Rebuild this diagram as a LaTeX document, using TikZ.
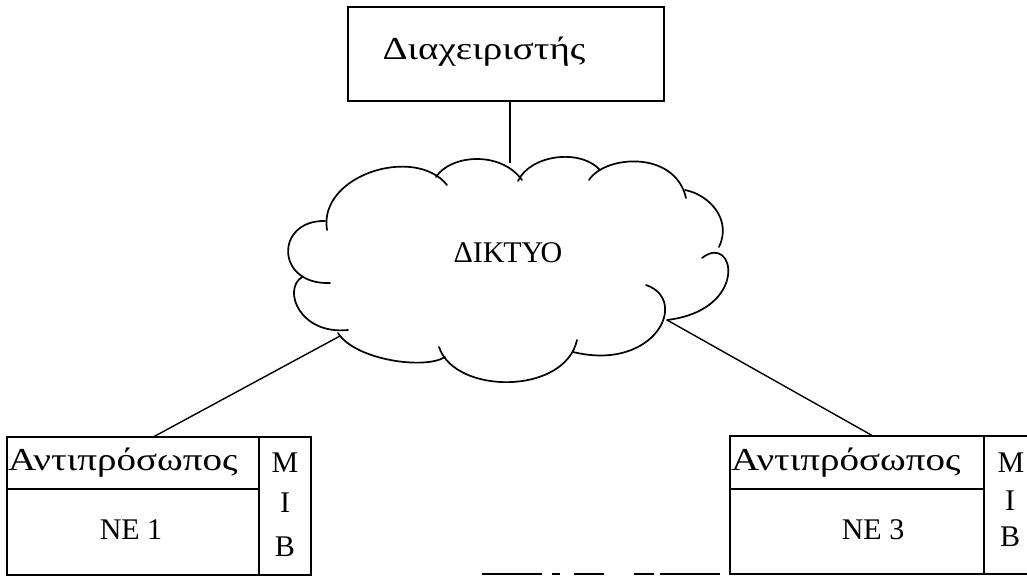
\documentclass[tikz,border=0pt]{standalone}
\usepackage{fontspec}
\setmainfont{Liberation Serif}
\newfontfamily\widegreek[FakeStretch=1.22]{Liberation Serif}
\usetikzlibrary{calc}
\tikzset{
  frame/.style={draw, line width=1.4pt, inner sep=0pt, outer sep=0pt},
  wire/.style={line width=1.4pt},
  puff/.style={line width=1.7pt, line cap=round},
  label/.style={inner sep=0pt, font=\fontsize{30}{30}\selectfont},
  wordlabel/.style={inner sep=0pt, font=\widegreek\fontsize{32}{32}\selectfont},
  scanline/.style={line width=1.2pt, dash pattern=on 60pt off 10pt on 8pt off 14pt on 30pt off 30pt on 20pt off 6pt}
}
\begin{document}
\begin{tikzpicture}[x=1pt, y=-1pt]
\useasboundingbox (0,0) rectangle (1027,577);

% manager box
\node[frame, minimum width=316pt, minimum height=94pt] (mgr) at (506,54) {};
\node[wordlabel] (mgrtext) at (484,52) {Διαχειριστής};

% network cloud, one arc per bump
\draw[puff] (327,230) .. controls (318,175) and (415,145) .. (447,185);
\draw[puff] (436,177) .. controls (450,155) and (500,150) .. (522,180);
\draw[puff] (518,181) .. controls (530,155) and (580,148) .. (600,170);
\draw[puff] (589,180) .. controls (605,155) and (675,150) .. (686,198);
\draw[puff] (685,190) .. controls (710,195) and (732,220) .. (719,247);
\draw[puff] (702,258) .. controls (735,232) and (750,310) .. (667,320);
\draw[puff] (646,285) .. controls (690,300) and (655,372) .. (573,352);
\draw[puff] (577,340) .. controls (565,395) and (455,395) .. (439,347);
\draw[puff] (445,357) .. controls (425,370) and (355,360) .. (338,333);
\draw[puff] (348,330) .. controls (300,335) and (282,290) .. (302,277);
\draw[puff] (330,283) .. controls (275,285) and (275,220) .. (325,221);
\node[label] (net) at (508,253) {ΔΙΚΤΥΟ};
\coordinate (netT) at (510,163);
\coordinate (netL) at (340,336);
\coordinate (netR) at (667,320);

% left network element
\node[frame, minimum width=252pt, minimum height=52pt] (agent1) at (133,463) {};
\node[frame, minimum width=252pt, minimum height=86pt] (ne1) at (133,532) {};
\node[frame, minimum width=52pt, minimum height=138pt] (mib1) at (285,506) {};
\node[wordlabel, anchor=west] (agent1text) at (8,463) {Αντιπρόσωπος};
\node[label] (ne1text) at (131,530) {NE 1};
\node[label] (m1) at (285,463) {M};
\node[label] (i1) at (285,503) {I};
\node[label] (b1) at (285,547) {B};

% right network element
\node[frame, minimum width=254pt, minimum height=53pt] (agent3) at (857,462.5) {};
\node[frame, minimum width=254pt, minimum height=85pt] (ne3) at (857,531.5) {};
\node[frame, minimum width=60pt, minimum height=138pt] (mib3) at (1014,505) {};
\node[wordlabel, anchor=west] (agent3text) at (731,463) {Αντιπρόσωπος};
\node[label] (ne3text) at (873,530) {NE 3};
\node[label] (m3) at (1011,463) {M};
\node[label] (i3) at (1010,501) {I};
\node[label] (b3) at (1010,537) {B};

% connections
\draw[wire] (netT |- mgr.south) -- (netT);
\draw[wire] (netL) -- ($(agent1.north west)!0.58!(agent1.north east)$);
\draw[wire] (netR) -- ($(agent3.north west)!0.563!(agent3.north east)$);

% faint broken rule along the bottom
\coordinate (ruleL) at (482,574);
\draw[scanline] (ruleL) -- (ne3.south west);
\end{tikzpicture}
\end{document}
